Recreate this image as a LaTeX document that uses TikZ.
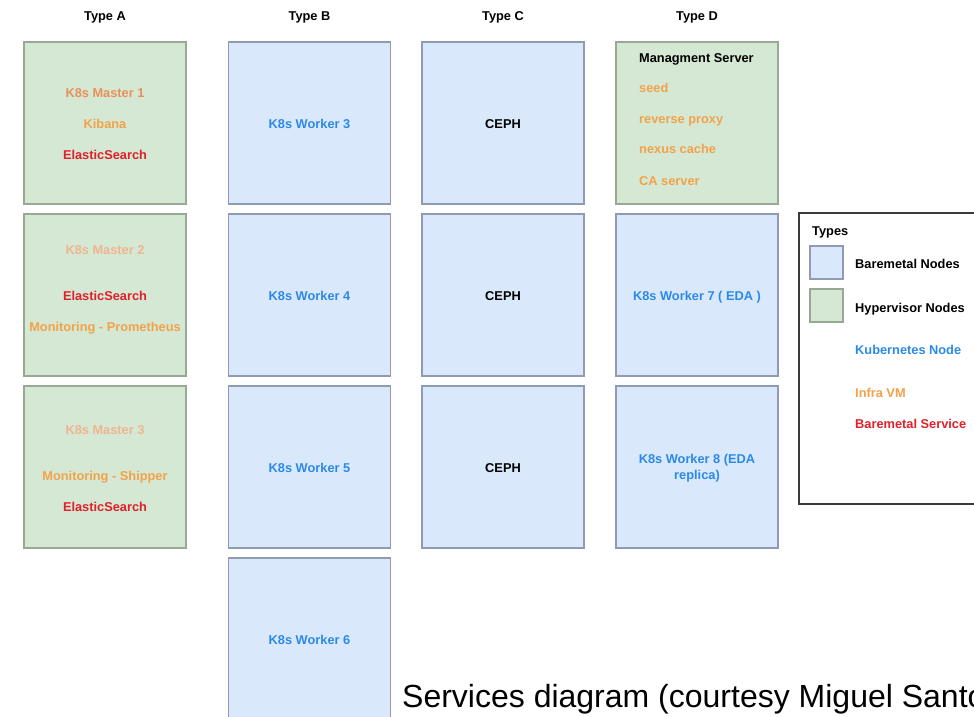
\documentclass[tikz,border=0pt]{standalone}
\usepackage{fontspec}
\setmainfont{Liberation Sans}
\definecolor{bluefill}{HTML}{DAE8FC}
\definecolor{blueline}{HTML}{8E9BB2}
\definecolor{greenfill}{HTML}{D5E8D4}
\definecolor{greenline}{HTML}{97A893}
\definecolor{k8sblue}{HTML}{2B8AE8}
\definecolor{masterone}{HTML}{E8905A}
\definecolor{masterlight}{HTML}{F0B48E}
\definecolor{infra}{HTML}{F2A24A}
\definecolor{esred}{HTML}{E0202A}
\definecolor{legline}{HTML}{3A3A3A}
\begin{document}
\begin{tikzpicture}[x=1pt,y=-1pt,
  lbl/.style={font=\fontsize{12.8}{15}\selectfont\bfseries, inner sep=0pt, text height=9.2pt, text depth=2.6pt, yshift=-2pt},
  box/.style={minimum width=162, minimum height=162, line width=1.2pt, inner sep=0pt},
  bm/.style={box, draw=blueline, fill=bluefill},
  hv/.style={box, draw=greenline, fill=greenfill},
  swatch/.style={minimum width=33, minimum height=33, line width=1.2pt, inner sep=0pt}]
\useasboundingbox (0,0) rectangle (974,716);
\begin{scope}
\clip (0,0) rectangle (974,716);
% headers
\node[lbl] (hA) at (105,15) {Type A};
\node[lbl] (hB) at (309.5,15) {Type B};
\node[lbl] (hC) at (503,15) {Type C};
\node[lbl] (hD) at (697,15) {Type D};
% Type A
\node[hv] (a1) at (105,123) {};
\node[hv] (a2) at (105,295) {};
\node[hv] (a3) at (105,467) {};
% Type B
\node[bm] (b1) at (309.5,123) {};
\node[bm] (b2) at (309.5,295) {};
\node[bm] (b3) at (309.5,467) {};
\node[bm] (b4) at (309.5,639) {};
% Type C
\node[bm] (c1) at (503,123) {};
\node[bm] (c2) at (503,295) {};
\node[bm] (c3) at (503,467) {};
% Type D
\node[hv] (d1) at (697,123) {};
\node[bm] (d2) at (697,295) {};
\node[bm] (d3) at (697,467) {};
% Type A texts
\node[lbl, text=masterone] (a1t1) at (105,92) {K8s Master 1};
\node[lbl, text=infra] (a1t2) at (105,123) {Kibana};
\node[lbl, text=esred] (a1t3) at (105,154) {ElasticSearch};
\node[lbl, text=masterlight] (a2t1) at (105,249) {K8s Master 2};
\node[lbl, text=esred] (a2t2) at (105,295) {ElasticSearch};
\node[lbl, text=infra] (a2t3) at (105,326) {Monitoring - Prometheus};
\node[lbl, text=masterlight] (a3t1) at (105,429) {K8s Master 3};
\node[lbl, text=infra] (a3t2) at (105,475) {Monitoring - Shipper};
\node[lbl, text=esred] (a3t3) at (105,506) {ElasticSearch};
% Type B texts
\node[lbl, text=k8sblue] (b1t) at (309.5,123) {K8s Worker 3};
\node[lbl, text=k8sblue] (b2t) at (309.5,295) {K8s Worker 4};
\node[lbl, text=k8sblue] (b3t) at (309.5,467) {K8s Worker 5};
\node[lbl, text=k8sblue] (b4t) at (309.5,639) {K8s Worker 6};
% Type C texts
\node[lbl] (c1t) at (503,123) {CEPH};
\node[lbl] (c2t) at (503,295) {CEPH};
\node[lbl] (c3t) at (503,467) {CEPH};
% Type D texts
\node[lbl, anchor=west] (d1t1) at (639,57) {Managment Server};
\node[lbl, anchor=west, text=infra] (d1t2) at (639,87) {seed};
\node[lbl, anchor=west, text=infra] (d1t3) at (639,118) {reverse proxy};
\node[lbl, anchor=west, text=infra] (d1t4) at (639,148) {nexus cache};
\node[lbl, anchor=west, text=infra] (d1t5) at (639,180) {CA server};
\node[lbl, text=k8sblue] (d2t) at (697,295) {K8s Worker 7 ( EDA )};
\node[text=k8sblue, align=center, inner sep=0pt, yshift=-1.5pt, font=\fontsize{12.8}{16}\selectfont\bfseries] (d3t) at (697,467) {K8s Worker 8 (EDA\\replica)};
% legend
\node[draw=legline, line width=1.2pt, fill=white, minimum width=191, minimum height=291, inner sep=0pt] (leg) at (894.5,358.5) {};
\node[lbl, anchor=west] (legt) at (812,230) {Types};
\node[swatch, draw=blueline, fill=bluefill] (sw1) at (826.5,262.5) {};
\node[swatch, draw=greenline, fill=greenfill] (sw2) at (826.5,305.5) {};
\node[lbl, anchor=west] (l1) at (855,263) {Baremetal Nodes};
\node[lbl, anchor=west] (l2) at (855,307) {Hypervisor Nodes};
\node[lbl, anchor=west, text=k8sblue] (l3) at (855,349) {Kubernetes Node};
\node[lbl, anchor=west, text=infra] (l4) at (855,392) {Infra VM};
\node[lbl, anchor=west, text=esred] (l5) at (855,423) {Baremetal Service};
% caption
\node[anchor=base west, inner sep=0pt, font=\fontsize{32}{38}\selectfont] (cap) at (402,707) {Services diagram (courtesy Miguel Santos)};
\end{scope}
\end{tikzpicture}
\end{document}
